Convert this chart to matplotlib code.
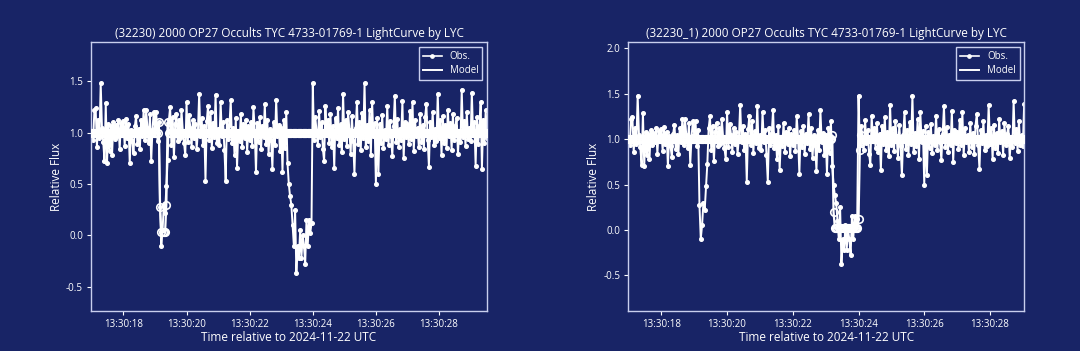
import numpy as np
import matplotlib
matplotlib.use("Agg")
import matplotlib.pyplot as plt
from matplotlib.lines import Line2D

plt.rcParams['font.family'] = ['Open Sans', 'DejaVu Sans']

# ---------------- data ----------------
t_start = 17.00      # seconds after 13:30:00
frame_dt = 0.04      # camera cadence (s)

obs_rows = [
    [1.02, 0.93, 1.22, 1.24, 0.86, 1.12, 0.95, 1.48, 1.05, 0.91, 0.72, 1.29, 0.70, 1.08, 0.82, 1.06, 0.78, 1.10, 0.94, 1.07, 0.97, 1.12, 0.84, 1.09, 1.00],
    [1.11, 0.87, 1.13, 0.95, 1.08, 0.70, 1.03, 0.92, 0.80, 1.06, 1.16, 0.89, 1.04, 0.84, 1.12, 0.97, 1.22, 0.93, 1.22, 1.05, 0.90, 1.18, 0.72, 1.03, 1.20],
    [1.05, 1.20, 0.92, 1.10, 0.28, -0.10, 0.05, 0.30, 0.22, 0.48, 0.73, 1.12, 1.25, 0.88, 1.15, 0.76, 1.08, 1.18, 0.92, 1.12, 0.95, 1.22, 1.02, 0.90, 0.78],
    [1.30, 0.91, 1.17, 1.05, 0.86, 1.12, 0.95, 1.08, 0.84, 1.01, 1.38, 0.97, 1.14, 0.88, 1.06, 0.53, 1.11, 1.26, 0.93, 1.20, 0.85, 1.09, 0.96, 1.37, 0.90],
    [1.04, 0.88, 1.30, 0.97, 1.10, 0.83, 0.53, 1.12, 0.94, 1.07, 1.32, 0.90, 1.05, 0.78, 1.14, 0.66, 1.02, 0.92, 1.18, 0.86, 1.08, 0.95, 1.12, 0.81, 1.06],
    [0.93, 1.10, 0.87, 1.25, 1.02, 0.62, 1.09, 0.91, 1.15, 0.84, 1.06, 0.96, 1.28, 0.89, 1.12, 0.79, 1.04, 0.93, 0.65, 1.10, 0.88, 1.32, 0.97, 1.07, 0.82],
    [1.05, 0.62, 1.12, 0.85, 1.20, 0.70, 0.50, 0.38, 0.30, 0.10, -0.10, 0.25, -0.37, -0.10, -0.22, 0.05, -0.22, 0.00, -0.10, -0.28, 0.15, -0.10, 0.15, 0.02, 0.12],
    [1.48, 0.93, 1.15, 1.02, 0.88, 1.21, 0.96, 1.10, 0.84, 0.72, 1.26, 0.98, 1.12, 0.90, 1.18, 0.86, 1.06, 0.66, 1.14, 0.95, 1.24, 0.88, 1.08, 0.81, 1.38],
    [0.94, 1.12, 0.87, 1.20, 1.03, 0.79, 1.16, 0.92, 0.60, 1.05, 1.30, 0.89, 1.10, 0.83, 1.19, 0.95, 1.48, 0.86, 1.07, 0.92, 1.22, 0.78, 1.30, 0.97, 1.09],
    [0.50, 1.14, 0.60, 1.08, 0.90, 1.17, 0.85, 1.03, 0.94, 1.26, 0.88, 1.11, 0.97, 0.77, 1.06, 1.36, 0.91, 1.13, 0.86, 1.04, 0.93, 1.31, 0.75, 1.10, 0.96],
    [1.08, 0.89, 1.21, 0.94, 1.30, 0.82, 1.12, 0.97, 1.05, 0.86, 1.18, 0.91, 1.07, 0.84, 1.15, 1.28, 0.93, 0.67, 1.10, 0.96, 1.20, 0.88, 1.04, 0.92, 1.38],
    [0.95, 1.12, 0.78, 1.16, 0.90, 1.07, 0.85, 1.22, 0.97, 1.09, 0.83, 1.18, 0.93, 1.06, 1.14, 0.79, 1.02, 0.91, 1.42, 0.96, 1.11, 0.87, 1.20, 0.94, 1.05],
    [0.92, 1.39, 0.98, 1.10, 0.68, 1.15, 0.89, 1.06, 1.30, 0.65, 1.12, 0.90, 1.22, 0.95],
]

model_baseline = 1.0
# model values differing from the baseline: frame index -> relative flux
model_left_dip = {53: 1.10, 54: 0.28, 55: 0.03, 56: 0.03, 57: 0.03, 58: 0.03, 59: 0.30, 60: 1.10}
model_right_dip = {155: 1.04, 156: 0.20, 157: 0.02, 158: 0.02, 159: 0.02, 160: 0.02, 161: 0.02,
                   162: 0.02, 163: 0.02, 164: 0.02, 165: 0.02, 166: 0.02, 167: 0.02, 168: 0.02,
                   169: 0.02, 170: 0.02, 171: 0.02, 172: 0.02, 173: 0.02, 174: 0.02, 175: 0.12,
                   176: 0.88, 177: 1.04}

titles = ["(32230) 2000 OP27 Occults TYC 4733-01769-1 LightCurve by LYC",
          "(32230_1) 2000 OP27 Occults TYC 4733-01769-1 LightCurve by LYC"]
xtick_pos = [18, 20, 22, 24, 26, 28]
xtick_labels = ["13:30:18", "13:30:20", "13:30:22", "13:30:24", "13:30:26", "13:30:28"]
xlims = [(16.96, 29.53), (16.98, 29.05)]
ylims = [(-0.737, 1.88), (-0.892, 2.066)]
yticks = [[-0.5, 0.0, 0.5, 1.0, 1.5], [-0.5, 0.0, 0.5, 1.0, 1.5, 2.0]]

# ---------------- build ----------------
obs = np.array([v for row in obs_rows for v in row])
t = t_start + frame_dt * np.arange(len(obs))

def make_model(dip):
    m = np.full(len(obs), model_baseline)
    for k, v in dip.items():
        m[k] = v
    return m

models = [make_model(model_left_dip), make_model(model_right_dip)]

BG = "#182466"
SPINE = "#c9cfee"
W = "white"

fig = plt.figure(figsize=(10.8, 3.51), dpi=100, facecolor=BG)
positions = [[0.0839, 0.114, 0.3673, 0.7655], [0.5813, 0.114, 0.3673, 0.7655]]

for i in range(2):
    ax = fig.add_axes(positions[i])
    ax.set_facecolor(BG)
    ax.plot(t, obs, color=W, lw=1.4, marker='o', ms=2.6, mec=W, mfc=W, zorder=2)
    ax.plot(t, models[i], color=W, lw=1.6, marker='o', ms=5.4, mfc='none', mec=W, mew=1.2, zorder=3)
    ax.set_xlim(*xlims[i])
    ax.set_ylim(*ylims[i])
    ax.set_xticks(xtick_pos)
    ax.set_xticklabels(xtick_labels)
    ax.set_yticks(yticks[i])
    ax.set_yticklabels([f"{v:.1f}" for v in yticks[i]])
    ax.tick_params(colors=W, labelsize=7, length=3, width=0.8, pad=2.5)
    for s in ax.spines.values():
        s.set_color(SPINE)
        s.set_linewidth(1.0)
    ax.set_title(titles[i], color=W, fontsize=8.5, pad=4)
    ax.set_xlabel("Time relative to 2024-11-22 UTC", color=W, fontsize=8.5, labelpad=1)
    ax.set_ylabel("Relative Flux", color=W, fontsize=8.5, labelpad=2)
    handles = [Line2D([], [], color=W, lw=1.2, marker='o', ms=2.4),
               Line2D([], [], color=W, lw=1.4)]
    leg = ax.legend(handles, ["Obs.", "Model"], loc='upper right', fontsize=7,
                    facecolor=BG, edgecolor=SPINE, framealpha=1.0, fancybox=False,
                    handlelength=2.0, borderpad=0.4, labelspacing=0.3)
    for txt in leg.get_texts():
        txt.set_color(W)

fig.savefig("out.png", dpi=100, facecolor=BG)
